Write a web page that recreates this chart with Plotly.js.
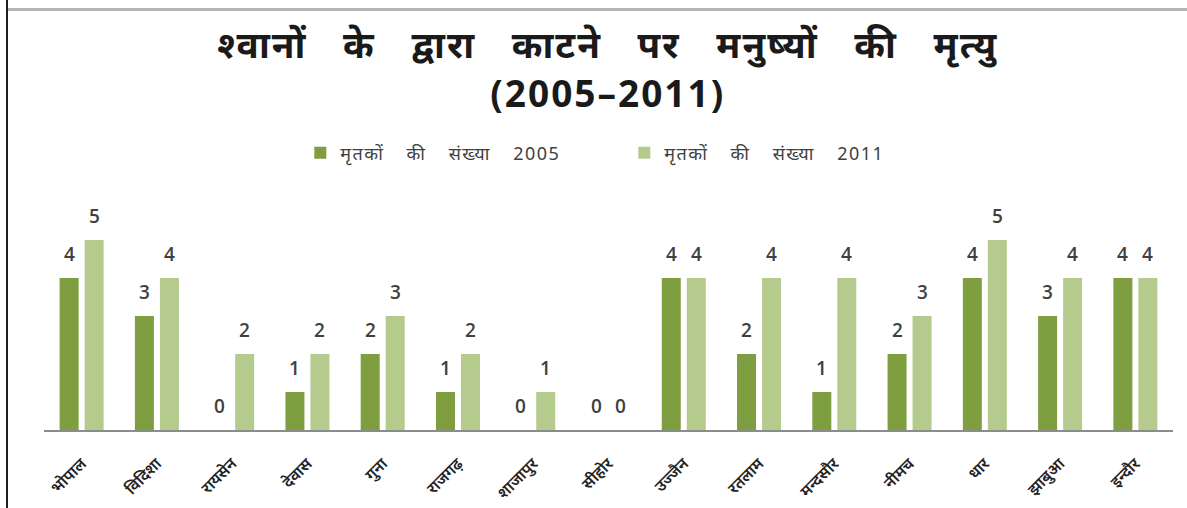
<!DOCTYPE html>
<html>
<head>
<meta charset="utf-8">
<script src="https://cdn.plot.ly/plotly-3.0.1.min.js"></script>
<style>
  html, body { margin: 0; padding: 0; background: #fff; }
  #wrap { position: relative; width: 1187px; height: 508px; overflow: hidden; }
  #chart { position: absolute; left: 0; top: 0; width: 1187px; height: 508px; }
  #vline { position: absolute; left: 6px; top: 0; width: 2px; height: 508px; background: #1e1e1e; pointer-events: none; }
  #hline { position: absolute; left: 8px; top: 8px; width: 1179px; height: 3px; background: #b4b4b4; pointer-events: none; }
  #chart .gtitle { letter-spacing: 2px; word-spacing: 24px; }
  #chart .legendtext { letter-spacing: 1.5px; word-spacing: 16px; }
</style>
</head>
<body>
<div id="wrap">
  <div id="chart"></div>
  <div id="vline"></div>
  <div id="hline"></div>
</div>
<script>
const districts = ["भोपाल", "विदिशा", "रायसेन", "देवास", "गुना", "राजगढ़", "शाजापुर", "सीहोर",
                   "उज्जैन", "रतलाम", "मन्दसौर", "नीमच", "धार", "झाबुआ", "इन्दौर"];
const deaths2005 = [4, 3, 0, 1, 2, 1, 0, 0, 4, 2, 1, 2, 4, 3, 4];
const deaths2011 = [5, 4, 2, 2, 3, 2, 1, 0, 4, 4, 4, 3, 5, 4, 4];
const seriesNames = ["मृतकों की संख्या 2005", "मृतकों की संख्या 2011"];
const titleText = "श्वानों के द्वारा काटने पर मनुष्यों की मृत्यु<br>(2005–2011)";

const colors = ["#7f9e3f", "#b5ca8d"];
const BARGAP = 0.336;
const labelFont = { family: "Open Sans, sans-serif", size: 19, color: "#404040", weight: 600 };

const traces = [deaths2005, deaths2011].map((vals, i) => ({
  type: "bar",
  name: seriesNames[i],
  x: districts,
  y: vals,
  marker: { color: colors[i] },
  hoverinfo: "x+y"
}));

// value labels placed via the category axis (index ± half slot)
const slot = (1 - BARGAP) / 2;
const annotations = [];
[deaths2005, deaths2011].forEach((vals, s) => {
  const off = (s === 0 ? -1 : 1) * slot / 2;
  vals.forEach((v, k) => {
    annotations.push({
      x: k + off, y: v, xref: "x", yref: "y",
      text: String(v), showarrow: false,
      yanchor: "bottom", yshift: 9,
      font: labelFont
    });
  });
});

const layout = {
  width: 1187, height: 508,
  margin: { l: 44, r: 14, t: 202, b: 78 },
  paper_bgcolor: "rgba(0,0,0,0)",
  plot_bgcolor: "rgba(0,0,0,0)",
  title: {
    text: titleText,
    x: 0.512, xanchor: "center",
    y: 0.885, yanchor: "middle",
    font: { family: "Noto Sans, sans-serif", size: 37, color: "#1a1a1a", weight: 700 }
  },
  barmode: "group",
  bargap: BARGAP,
  bargroupgap: 0.24,
  showlegend: true,
  legend: {
    orientation: "h",
    x: 0.514, xanchor: "center",
    y: 1.215, yanchor: "middle",
    font: { family: "Noto Sans, sans-serif", size: 18, color: "#404040" },
    itemwidth: 30,
    entrywidth: 279,
    entrywidthmode: "pixels",
    traceorder: "normal"
  },
  xaxis: {
    type: "category",
    showline: true, linecolor: "#8c8c8c", linewidth: 2,
    showgrid: false, zeroline: false,
    ticks: "outside", ticklen: 16, tickcolor: "rgba(0,0,0,0)",
    tickangle: -45,
    tickfont: { family: "Noto Sans, sans-serif", size: 16, color: "#222", weight: 600 }
  },
  yaxis: {
    range: [0, 6],
    showgrid: false, zeroline: false, showline: false,
    showticklabels: false, ticks: ""
  },
  annotations: annotations
};

Plotly.newPlot("chart", traces, layout, { displayModeBar: false, staticPlot: true });
</script>
</body>
</html>
